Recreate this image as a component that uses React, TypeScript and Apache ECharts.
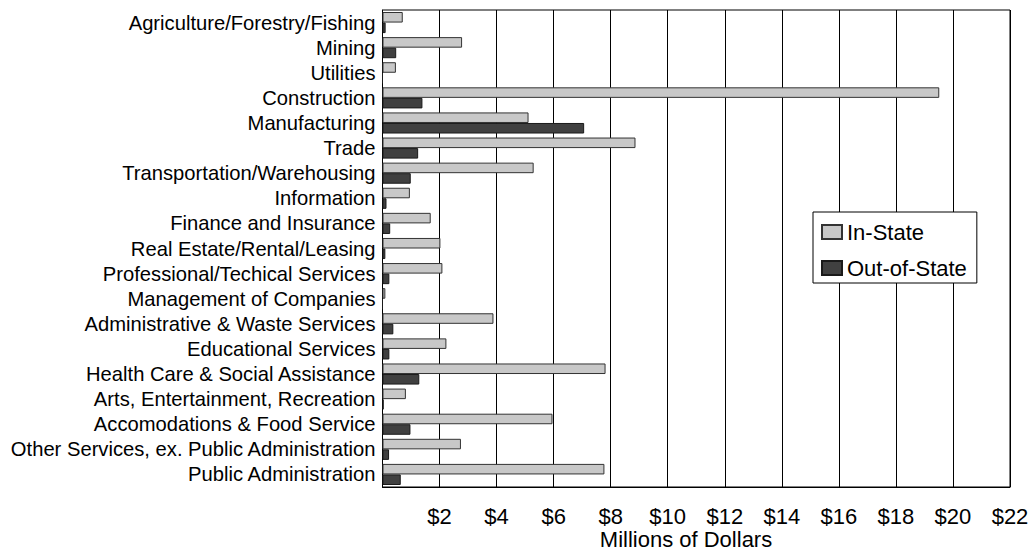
import React, { useEffect, useRef } from "react";
import * as echarts from "echarts";

const categories = [
  "Agriculture/Forestry/Fishing",
  "Mining",
  "Utilities",
  "Construction",
  "Manufacturing",
  "Trade",
  "Transportation/Warehousing",
  "Information",
  "Finance and Insurance",
  "Real Estate/Rental/Leasing",
  "Professional/Techical Services",
  "Management of Companies",
  "Administrative & Waste Services",
  "Educational Services",
  "Health Care & Social Assistance",
  "Arts, Entertainment, Recreation",
  "Accomodations & Food Service",
  "Other Services, ex. Public Administration",
  "Public Administration",
];

const inState = [0.71, 2.79, 0.47, 19.52, 5.12, 8.87, 5.3, 0.96, 1.69, 2.03, 2.1, 0.1, 3.89, 2.24, 7.82, 0.82, 5.96, 2.75, 7.78];
const outOfState = [0.11, 0.48, 0, 1.4, 7.07, 1.25, 0.99, 0.14, 0.27, 0.1, 0.24, 0, 0.38, 0.24, 1.29, 0.04, 0.98, 0.23, 0.64];

const xTicks = { min: 0, max: 22, interval: 2 };
const seriesNames = ["In-State", "Out-of-State"];
const axisTitle = "Millions of Dollars";

const FONT = "'Liberation Sans', Arial, Helvetica, sans-serif";

export default function App() {
  const ref = useRef<HTMLDivElement>(null);
  useEffect(() => {
    if (!ref.current) return;
    const chart = echarts.init(ref.current, undefined, { renderer: "svg" });
    chart.setOption({
      animation: false,
      backgroundColor: "#fff",
      textStyle: { fontFamily: FONT },
      grid: {
        left: 382.5,
        right: 25,
        top: 10,
        bottom: 68,
        show: true,
        borderColor: "#000",
        borderWidth: 1,
        backgroundColor: "transparent",
      },
      legend: {
        orient: "vertical",
        left: 813,
        top: 212,
        padding: [9, 10, 4, 8],
        itemGap: 14,
        itemWidth: 20,
        itemHeight: 14,
        icon: "rect",
        backgroundColor: "#fff",
        borderColor: "#000",
        borderWidth: 1,
        data: seriesNames,
        textStyle: { fontSize: 22, color: "#000", fontFamily: FONT },
      },
      xAxis: {
        type: "value",
        min: xTicks.min,
        max: xTicks.max,
        interval: xTicks.interval,
        axisLine: { show: true, lineStyle: { color: "#000", width: 1 } },
        axisTick: { show: false },
        splitLine: { show: true, lineStyle: { color: "#000", width: 1 } },
        axisLabel: {
          margin: 18,
          fontSize: 22,
          color: "#000",
          fontFamily: FONT,
          formatter: (v: number) => (v === 0 ? "" : "$" + v),
        },
      },
      yAxis: {
        type: "category",
        data: categories,
        inverse: true,
        axisLine: { show: true, lineStyle: { color: "#000", width: 1 } },
        axisTick: { show: false },
        splitLine: { show: false },
        axisLabel: { interval: 0, margin: 7, fontSize: 20.2, color: "#000", fontFamily: FONT },
      },
      graphic: [
        {
          type: "text",
          x: 686,
          y: 539,
          style: {
            text: axisTitle,
            fontSize: 22,
            fontFamily: FONT,
            fill: "#000",
            textAlign: "center",
            textVerticalAlign: "middle",
          },
        },
      ],
      series: [
        {
          name: seriesNames[0],
          type: "bar",
          data: inState,
          barGap: "0%",
          barCategoryGap: "16%",
          itemStyle: { color: "#c8c8c8", borderColor: "#333", borderWidth: 1 },
        },
        {
          name: seriesNames[1],
          type: "bar",
          data: outOfState,
          barGap: "0%",
          barCategoryGap: "16%",
          itemStyle: { color: "#404040", borderColor: "#1a1a1a", borderWidth: 1 },
        },
      ],
    });
    return () => chart.dispose();
  }, []);
  return (
    <div
      ref={ref}
      style={{ position: "fixed", left: 0, top: 0, width: 1035, height: 555 }}
    />
  );
}
